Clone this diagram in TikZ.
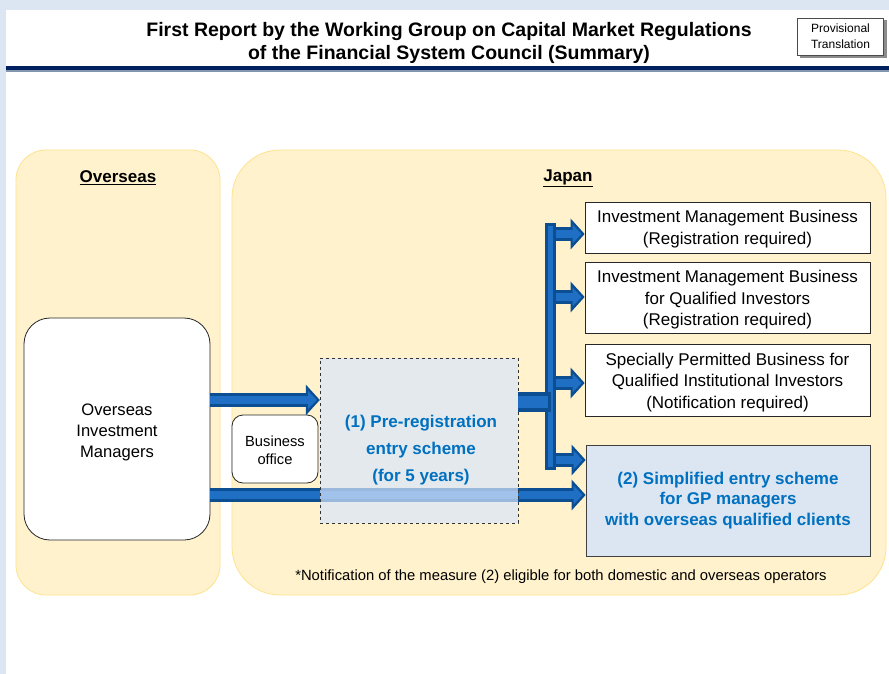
\documentclass[tikz,border=0pt]{standalone}
\usepackage{fontspec}
\setmainfont{Liberation Sans}
\usepackage{tikz}
\usetikzlibrary{arrows.meta}

\definecolor{pageblue}{HTML}{DCE6F2}
\definecolor{zoneyellow}{HTML}{FFF2CC}
\definecolor{zoneedge}{HTML}{FFE28F}
\definecolor{schemeblue}{HTML}{0070C0}
\definecolor{arrowblue}{HTML}{1F70C4}
\definecolor{arrowdark}{HTML}{0B4E92}
\definecolor{navy}{HTML}{002060}
\definecolor{rulegray}{HTML}{8497B0}
\definecolor{prefill}{HTML}{D8E6FC}

\tikzset{
  zone/.style={draw=zoneedge, fill=zoneyellow, line width=0.8pt},
  bizbox/.style={draw=black!85, fill=white, line width=0.7pt, align=center,
    minimum width=285pt, inner sep=0pt, font=\fontsize{17}{21.5}\selectfont},
  fatarrow/.style={draw=arrowdark, line width=14pt, -{Triangle[width=30pt,length=14pt]}},
  fatarrowhi/.style={draw=arrowblue, line width=8pt, -{Triangle[width=18pt,length=9pt]}, shorten >=3pt},
  zonelabel/.style={font=\fontsize{17}{21}\selectfont\bfseries},
  schemetext/.style={text=schemeblue, align=center, font=\fontsize{17}{27}\selectfont\bfseries},
}

% thick blue arrow, dark rim and lighter core
\newcommand\bluearrow[2]{\draw[fatarrow] #1 -- #2; \draw[fatarrowhi] #1 -- #2;}

\begin{document}
\begin{tikzpicture}[x=1pt,y=-1pt]

\useasboundingbox (0,0) rectangle (889,674);
\fill[pageblue] (0,0) rectangle (889,674);
\fill[white] (6,10) rectangle (889,674);

% header
\node[align=center, font=\fontsize{19.5}{23}\selectfont\bfseries] (title) at (449,42.5)
  {First Report by the Working Group on Capital Market Regulations\\of the Financial System Council (Summary)};
\fill[black!45] (800,20) rectangle (887,58);
\node[draw=black!70, fill=white, minimum width=86pt, minimum height=37pt, inner sep=0pt,
  align=center, font=\fontsize{12}{16}\selectfont] (prov) at (840.5,36.5) {Provisional\\Translation};
\fill[navy] (6,66.5) rectangle (889,70);
\fill[rulegray] (6,70) rectangle (889,72.5);

% zones
\draw[zone, rounded corners=30pt] (16,150) rectangle (220,595);
\draw[zone, rounded corners=48pt] (232,150) rectangle (886,595);
\node[zonelabel] (overseas) at (118,178) {\underline{Overseas}};
\node[zonelabel] (japan) at (568,178) {\underline{Japan}};

% actors
\node[draw=black!85, fill=white, line width=0.8pt, rounded corners=26pt, minimum width=186pt,
  minimum height=222pt, align=center, font=\fontsize{16.6}{21}\selectfont] (oim) at (117,429)
  {\rule{0pt}{18pt}Overseas\\Investment\\Managers};
\node[draw=black!85, fill=white, line width=0.8pt, rounded corners=11pt, minimum width=86pt,
  minimum height=68pt, align=center, font=\fontsize{14.7}{18}\selectfont] (office) at (275,449)
  {\rule{0pt}{13pt}Business\\office};

% business categories
\node[bizbox, minimum height=51pt] (box1) at (727.5,227.5)
  {\rule{0pt}{16pt}Investment Management Business\\(Registration required)};
\node[bizbox, minimum height=71pt] (box2) at (727.5,297.5)
  {\rule{0pt}{17pt}Investment Management Business\\for Qualified Investors\\(Registration required)};
\node[bizbox, minimum height=72pt] (box3) at (727.5,380)
  {\rule{0pt}{17pt}Specially Permitted Business for\\Qualified Institutional Investors\\(Notification required)};
\node[draw=black!75, fill=pageblue, line width=0.7pt, minimum width=284pt, minimum height=111pt,
  inner sep=0pt, align=center, text=schemeblue, font=\fontsize{17}{20.5}\selectfont\bfseries] (simple) at (728,500.5)
  {(2) Simplified entry scheme\\for GP managers\\with overseas qualified clients};

% direct route to (2)
\bluearrow{(oim.east |- 0,495)}{(simple.west |- 0,495)}

% pre-registration scheme
\node[draw=black!80, dashed, fill=prefill, fill opacity=0.7, minimum width=198pt,
  minimum height=165pt] (pre) at (419,440.5) {};
\node[schemetext] (pretext) at (421,450) {(1) Pre-registration\\entry scheme\\(for 5 years)};
\bluearrow{(oim.east |- 0,400)}{(pre.west |- 0,400)}

% branching bar
\coordinate (bartop) at (550.5,223);
\coordinate (barbot) at (550.5,470);
\bluearrow{(bartop |- 0,234)}{(box1.west |- 0,234)}
\bluearrow{(bartop |- 0,297)}{(box2.west |- 0,297)}
\bluearrow{(bartop |- 0,383)}{(box3.west |- 0,383)}
\bluearrow{(bartop |- 0,460)}{(simple.west |- 0,460)}
\draw[arrowdark, line width=11pt] (bartop) -- (barbot);
\draw[arrowblue, line width=5pt] ([yshift=-3pt]bartop) -- ([yshift=3pt]barbot);
\draw[arrowdark, line width=20pt] (pre.east |- 0,402) -- (bartop |- 0,402);
\draw[arrowblue, line width=12pt] (pre.east |- 0,402) -- ([xshift=-3pt]bartop |- 0,402);

\node[font=\fontsize{14.8}{18}\selectfont] (note) at (561,577)
  {*Notification of the measure (2) eligible for both domestic and overseas operators};

\end{tikzpicture}
\end{document}
